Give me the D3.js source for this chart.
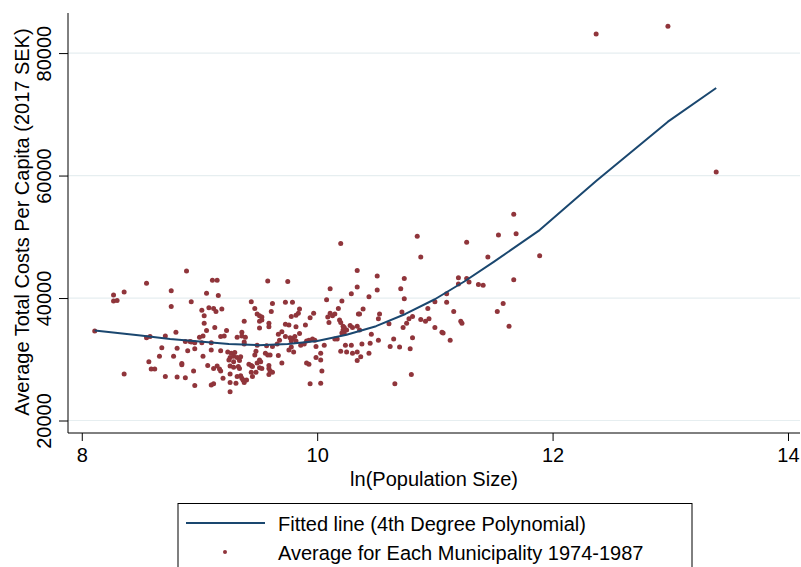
<!DOCTYPE html>
<html>
<head>
<meta charset="utf-8">
<script src="https://cdn.jsdelivr.net/npm/d3@7"></script>
<style>
  html, body { margin: 0; padding: 0; background: #ffffff; }
  svg { display: block; }
  text { font-family: "Liberation Sans", Arial, Helvetica, sans-serif; fill: #000; }
</style>
</head>
<body>
<svg id="chart" width="801" height="567"></svg>
<script>
// ln(population size) of each municipality
const lnPop = [
  8.89,8.27,8.36,8.55,8.27,8.30,8.76,8.76,8.11,8.55,8.58,8.71,8.80,8.88,8.68,8.81,8.90,8.66,8.78,8.57,
  8.85,8.85,8.59,8.62,8.36,8.71,8.81,8.88,
  9.11,9.15,9.58,9.06,9.16,8.93,9.44,9.62,9.08,9.12,9.14,9.19,9.02,9.47,9.61,9.49,9.51,9.53,9.04,9.51,
  9.53,9.38,9.04,9.59,9.59,9.13,9.06,9.51,9.36,9.36,9.67,9.03,9.18,9.21,9.32,9.39,8.92,8.93,8.96,9.00,
  9.02,9.10,9.38,9.38,9.49,9.57,9.62,9.66,8.96,9.10,9.18,9.24,9.27,9.30,9.26,9.29,9.32,9.35,9.48,9.47,
  9.56,9.58,9.60,9.03,9.67,9.25,9.29,9.34,9.51,9.49,9.52,9.07,9.15,9.12,9.17,9.26,9.29,9.33,9.34,9.42,
  9.44,9.45,9.51,9.48,9.53,9.59,9.59,8.95,9.18,9.26,9.32,9.35,9.36,9.37,9.44,9.45,9.60,9.62,9.59,9.20,
  9.26,9.31,9.38,9.40,9.12,9.10,8.96,9.26,9.23,
  9.75,10.11,10.29,10.34,10.08,10.21,9.73,9.79,9.85,10.18,9.78,9.82,9.84,9.97,9.94,10.11,10.09,10.13,
  10.15,10.35,10.10,9.90,9.73,9.76,9.82,10.19,10.20,10.22,10.23,10.25,10.28,10.30,10.34,10.22,10.21,
  10.23,9.70,9.85,9.73,9.77,9.79,9.81,9.82,9.78,9.68,9.86,9.89,9.91,9.93,9.96,9.98,9.78,9.76,9.80,9.99,
  10.06,10.15,10.17,10.24,10.25,10.29,10.30,10.20,10.34,10.03,9.99,10.03,10.34,9.91,9.93,10.04,9.94,
  10.03,9.70,
  10.85,10.88,10.34,10.51,10.74,10.71,10.51,10.74,10.44,10.39,10.36,10.53,10.52,10.72,10.81,10.78,
  10.76,10.73,10.61,10.94,11.00,11.10,11.10,11.16,11.20,11.20,10.88,10.92,10.95,11.00,11.06,11.07,
  11.13,10.81,10.65,10.52,10.46,10.45,10.38,10.62,10.70,10.79,10.44,10.37,10.80,10.66,10.36,
  11.67,11.54,11.69,11.27,11.45,11.89,11.27,11.29,11.37,11.41,11.67,11.22,11.23,11.53,11.58,11.63,
  12.37,12.98,13.39,10.20
];
// average total costs per capita (2017 SEK), same order
const avgCost = [
  44400,40500,41000,42400,39500,39600,41200,38600,34600,33500,33700,33800,34400,32900,31900,31800,31400,30500,30500,29600,
  29300,29100,28400,28400,27600,27200,27100,27000,
  42900,42900,42800,40800,40400,39400,39400,39100,38400,38300,37800,38200,38000,38300,37800,37400,37100,36900,37100,36200,
  36400,36200,35900,35900,35300,35200,34700,35100,34400,33800,34100,33800,33700,33800,33600,33600,32900,32800,32700,33600,
  32700,32700,32800,32500,32300,32200,32100,32500,31700,31500,31400,31200,31000,31100,30300,30500,30300,30400,31300,30700,
  31000,30700,30700,30500,30600,29900,29600,29800,29900,29400,29600,29000,28900,28500,28400,28900,28700,28800,28500,29200,
  29000,28800,28600,27900,28500,29000,28500,28100,28100,27600,27200,27300,26900,26600,27900,27200,28100,27900,27500,26900,
  26200,26100,26200,26600,26000,25800,25700,24700,34700,
  42700,41500,40700,41800,39700,39500,39300,39300,38200,38300,37000,37200,37500,37500,36800,37500,36900,37100,
  37400,37400,36000,35600,35700,35600,35300,36400,36000,35400,35200,34800,35500,35200,35400,34800,34300,
  34200,34500,34200,33700,33500,33400,33700,33000,33000,33100,32300,32500,33000,33100,33300,33100,32000,31500,31200,32100,
  32300,33300,33300,32300,31200,32300,31000,31300,31200,31000,30300,29900,29800,29400,29200,28100,26000,
  26100,29400,
  50100,46700,44500,43600,43200,41500,41300,39900,40200,38200,37400,37400,36600,37700,37000,36600,
  35900,35200,35800,38300,39400,40700,39300,37800,43300,42300,36500,36200,36600,35200,34400,34300,
  33100,33500,33300,33100,34100,32600,32500,32100,32000,31700,31000,30400,27500,26000,34800,
  53700,50300,50500,49100,46700,46900,43200,42600,42200,42100,43000,36200,35900,37800,39100,35400,
  83100,84400,60600,48900
];
// fitted values of the 4th degree polynomial
const fitX = [8.11, 8.5, 8.75, 9.0, 9.25, 9.5, 9.75, 10.0, 10.25, 10.5, 10.75, 11.0, 11.25, 11.5, 11.89, 12.37, 12.98, 13.39];
const fitY = [34700, 33900, 33300, 32900, 32500, 32300, 32500, 33000, 34000, 35400, 37400, 39800, 42700, 45900, 51100, 59100, 68800, 74300];

const xTicks = [8, 10, 12, 14];
const yTicks = [20000, 40000, 60000, 80000];

const seriesNames = ["Fitted line (4th Degree Polynomial)", "Average for Each Municipality 1974-1987"];
const xTitle = "ln(Population Size)";
const yTitle = "Average Total Costs Per Capita (2017 SEK)";

(function () {
const svg = d3.select("#chart");
const pL = 68, pR = 800, pT = 13, pB = 433;

const x = d3.scaleLinear().domain([7.883, 14.102]).range([pL, pR]);
const y = d3.scaleLinear().domain([17960, 86545]).range([pB, pT]);

// gridlines
svg.append("g").selectAll("line").data(yTicks).join("line")
  .attr("x1", pL).attr("x2", pR)
  .attr("y1", d => y(d)).attr("y2", d => y(d))
  .attr("stroke", "#e6eef0").attr("stroke-width", 1.2);

// scatter points
const pts = lnPop.map((v, i) => ({ x: v, y: avgCost[i] }));
svg.append("g").selectAll("circle").data(pts).join("circle")
  .attr("cx", d => x(d.x)).attr("cy", d => y(d.y)).attr("r", 2.5)
  .attr("fill", "#90353b");

// fitted line
const fit = fitX.map((v, i) => [v, fitY[i]]);
svg.append("path").datum(fit)
  .attr("d", d3.line().x(d => x(d[0])).y(d => y(d[1])).curve(d3.curveLinear))
  .attr("fill", "none").attr("stroke", "#1a476f").attr("stroke-width", 2)
  .attr("stroke-linejoin", "round");

// y axis
const yAxis = svg.append("g").attr("transform", `translate(${pL},0)`)
  .call(d3.axisLeft(y).tickValues(yTicks).tickSize(9).tickSizeOuter(0).tickFormat(d3.format("d")));
yAxis.select(".domain").attr("stroke", "#000").attr("d", `M0,${pT}V${pB}`);
yAxis.selectAll(".tick line").attr("stroke", "#000");
yAxis.selectAll(".tick text")
  .attr("x", null).attr("dy", null)
  .attr("transform", "translate(-17,0) rotate(-90)")
  .attr("text-anchor", "middle")
  .style("font-size", "20px").style("font-family", "'Liberation Sans', Arial, sans-serif").attr("fill", "#000");

// x axis
const xAxis = svg.append("g").attr("transform", `translate(0,${pB})`)
  .call(d3.axisBottom(x).tickValues(xTicks).tickSize(8).tickSizeOuter(0).tickFormat(d3.format("d")));
xAxis.select(".domain").attr("stroke", "#000").attr("d", `M${pL},0H${pR}`);
xAxis.selectAll(".tick line").attr("stroke", "#000");
xAxis.selectAll(".tick text")
  .attr("y", 29).attr("dy", null)
  .style("font-size", "20px").style("font-family", "'Liberation Sans', Arial, sans-serif").attr("fill", "#000");

// axis titles
svg.append("text").attr("x", 434).attr("y", 486).attr("text-anchor", "middle")
  .style("font-size", "20px").text(xTitle);
svg.append("text").attr("transform", "translate(28.5,222) rotate(-90)").attr("text-anchor", "middle")
  .style("font-size", "20px").text(yTitle);

// legend
const lg = svg.append("g");
lg.append("rect").attr("x", 178).attr("y", 503.5).attr("width", 514).attr("height", 100)
  .attr("fill", "#fff").attr("stroke", "#000").attr("stroke-width", 1);
lg.append("line").attr("x1", 186).attr("x2", 265).attr("y1", 523).attr("y2", 523)
  .attr("stroke", "#1a476f").attr("stroke-width", 2);
lg.append("circle").attr("cx", 225).attr("cy", 552).attr("r", 2).attr("fill", "#90353b");
lg.selectAll("text.lgt").data(seriesNames).join("text").attr("class", "lgt")
  .attr("x", 278).attr("y", (d, i) => 531 + i * 29)
  .style("font-size", "20px").text(d => d);
})();
</script>
</body>
</html>
